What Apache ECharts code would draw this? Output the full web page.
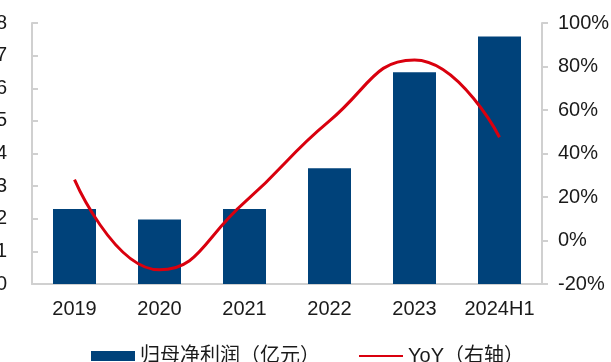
<!DOCTYPE html>
<html>
<head>
<meta charset="utf-8">
<script src="https://cdn.jsdelivr.net/npm/echarts@6/dist/echarts.min.js"></script>
<style>
  html, body { margin: 0; padding: 0; background: #fff; }
  #chart { width: 611px; height: 362px; }
</style>
</head>
<body>
<div id="chart"></div>
<script>
// Net profit attributable to parent (100M CNY) and its year-over-year growth
const categories = ['2019', '2020', '2021', '2022', '2023', '2024H1'];
const netProfit = [2.30, 1.98, 2.30, 3.55, 6.49, 7.59];
const yoy = [28, -13.5, 17.5, 55, 83, 47.5];
const leftTicks = { min: 0, max: 8, interval: 1 };
const rightTicks = { min: -20, max: 100, interval: 20 };
const barName = '归母净利润（亿元）';
const lineName = 'YoY（右轴）';

const FONT = "'Liberation Sans', 'Noto Sans CJK SC', sans-serif";
const AXIS_GRAY = '#d0d0d0';
const TEXT = '#1a1a1a';

const chart = echarts.init(document.getElementById('chart'), null, { renderer: 'canvas' });
chart.setOption({
  animation: false,
  textStyle: { fontFamily: FONT },
  grid: { left: 32, right: 69, top: 23, bottom: 78, containLabel: false, outerBoundsMode: 'none' },
  legend: {
    left: 86,
    top: 341,
    itemWidth: 44,
    itemHeight: 10,
    itemGap: 38,
    textStyle: { fontSize: 20, color: TEXT, fontFamily: FONT },
    data: [
      { name: barName, icon: 'rect' },
      { name: lineName, itemStyle: { opacity: 0 } }
    ]
  },
  xAxis: {
    type: 'category',
    data: categories,
    axisLine: { lineStyle: { color: AXIS_GRAY, width: 2 } },
    axisTick: { show: false },
    axisLabel: { interval: 0, fontSize: 20, color: TEXT, margin: 15, fontFamily: FONT }
  },
  yAxis: [
    {
      type: 'value',
      min: leftTicks.min, max: leftTicks.max, interval: leftTicks.interval,
      axisLine: { show: true, lineStyle: { color: AXIS_GRAY, width: 2 } },
      axisTick: { show: true, inside: true, length: 6, lineStyle: { color: AXIS_GRAY, width: 2 } },
      splitLine: { show: false },
      axisLabel: { fontSize: 20, color: TEXT, margin: 25, fontFamily: FONT }
    },
    {
      type: 'value',
      position: 'right',
      min: rightTicks.min, max: rightTicks.max, interval: rightTicks.interval,
      axisLine: { show: true, lineStyle: { color: AXIS_GRAY, width: 2 } },
      axisTick: { show: true, inside: false, length: 6, lineStyle: { color: AXIS_GRAY, width: 2 } },
      splitLine: { show: false },
      axisLabel: { fontSize: 20, color: TEXT, margin: 16, fontFamily: FONT, formatter: '{value}%' }
    }
  ],
  series: [
    {
      name: barName,
      type: 'bar',
      data: netProfit,
      yAxisIndex: 0,
      barWidth: 43,
      itemStyle: { color: '#00427a' }
    },
    {
      name: lineName,
      type: 'line',
      data: yoy,
      yAxisIndex: 1,
      smooth: true,
      symbol: 'none',
      lineStyle: { color: '#d9000e', width: 3 },
      itemStyle: { color: '#d9000e' }
    }
  ]
});
</script>
</body>
</html>
